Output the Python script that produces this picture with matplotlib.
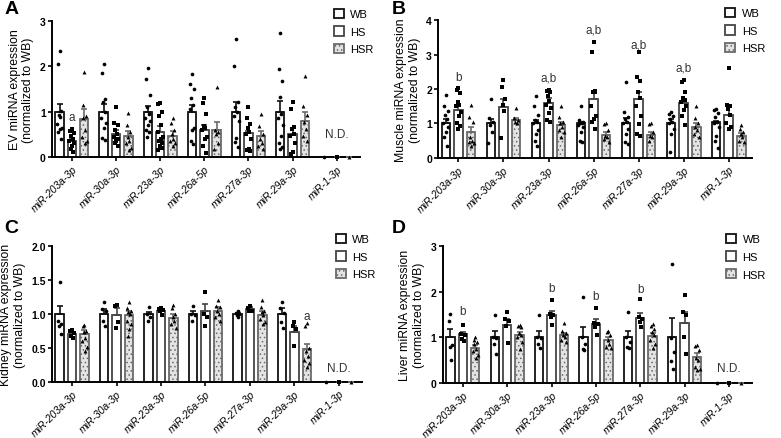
import matplotlib
matplotlib.use("Agg")
import matplotlib.pyplot as plt
import numpy as np
from matplotlib.patches import Patch

plt.rcParams['font.family'] = ['Liberation Sans', 'DejaVu Sans']
plt.rcParams['hatch.linewidth'] = 0.6

mirnas = ['miR-203a-3p', 'miR-30a-3p', 'miR-23a-3p', 'miR-26a-5p',
          'miR-27a-3p', 'miR-29a-3p', 'miR-1-3p']
groups = ['WB', 'HS', 'HSR']

# ---- Panel A: EV ----
ev_wb_mean = [1.0, 1.0, 1.0, 1.0, 1.0, 1.0, 0.0]
ev_wb_sem = [0.18, 0.17, 0.13, 0.15, 0.22, 0.23, 0.0]
ev_wb_pts = [[2.34, 2.04, 1.02, 0.92, 0.88, 0.72, 0.65, 0.62, 0.55, 0.40],
             [2.05, 1.86, 1.27, 1.22, 1.0, 0.85, 0.75, 0.65, 0.42, 0.38],
             [1.96, 1.72, 1.37, 1.1, 0.95, 0.85, 0.8, 0.7, 0.6, 0.55, 0.45],
             [1.84, 1.62, 1.5, 1.3, 1.15, 1.05, 0.65, 0.6, 0.35, 0.28],
             [2.61, 2.0, 1.22, 1.1, 1.0, 0.9, 0.8, 0.43, 0.33, 0.22],
             [2.74, 1.95, 1.68, 1.33, 0.95, 0.85, 0.7, 0.46, 0.3, 0.22, 0.18],
             [0.0]]
ev_hs_mean = [0.36, 0.5, 0.56, 0.6, 0.52, 0.51, 0.0]
ev_hs_sem = [0.06, 0.1, 0.12, 0.1, 0.06, 0.14, 0.0]
ev_hs_pts = [[0.62, 0.58, 0.52, 0.46, 0.40, 0.36, 0.30, 0.24, 0.18, 0.12],
             [1.1, 0.75, 0.7, 0.6, 0.5, 0.45, 0.4, 0.35, 0.3, 0.25],
             [1.2, 1.17, 1.0, 0.9, 0.7, 0.55, 0.45, 0.4, 0.35, 0.3, 0.25, 0.2, 0.15],
             [1.3, 1.2, 0.95, 0.68, 0.65, 0.6, 0.45, 0.4, 0.25, 0.08],
             [1.11, 0.87, 0.72, 0.65, 0.55, 0.5, 0.4, 0.17, 0.15, 0.13],
             [1.22, 1.05, 0.66, 0.62, 0.5, 0.46, 0.32, 0.12, 0.06],
             [0.0]]
ev_hsr_mean = [0.83, 0.47, 0.46, 0.6, 0.46, 0.8, 0.0]
ev_hsr_sem = [0.22, 0.11, 0.11, 0.18, 0.11, 0.2, 0.0]
ev_hsr_pts = [[1.87, 1.15, 0.9, 0.85, 0.6, 0.45, 0.35, 0.3],
              [0.96, 0.7, 0.55, 0.45, 0.35, 0.3, 0.2, 0.15],
              [0.87, 0.75, 0.6, 0.5, 0.4, 0.35, 0.3, 0.25],
              [1.55, 0.6, 0.55, 0.5, 0.3, 0.18],
              [0.94, 0.68, 0.5, 0.4, 0.32, 0.25, 0.17],
              [1.78, 1.12, 0.92, 0.78, 0.62, 0.46, 0.35],
              [0.0]]

# ---- Panel B: Muscle ----
mu_wb_mean = [1.0, 1.0, 1.0, 1.0, 1.0, 1.0, 1.05]
mu_wb_sem = [0.12, 0.14, 0.1, 0.05, 0.15, 0.12, 0.03]
mu_wb_pts = [[1.83, 1.5, 1.37, 1.25, 1.12, 1.0, 0.9, 0.75, 0.6, 0.36],
             [1.7, 1.15, 1.05, 0.95, 0.75, 0.42],
             [1.8, 1.5, 1.25, 1.1, 1.05, 1.0, 0.8, 0.7, 0.5, 0.35],
             [1.52, 1.1, 1.05, 1.02, 1.0, 0.95, 0.9, 0.75, 0.5, 0.45],
             [2.2, 1.32, 1.18, 1.12, 1.05, 1.0, 0.85, 0.7, 0.45, 0.4],
             [1.32, 1.28, 1.22, 1.12, 1.05, 1.0, 0.85, 0.7, 0.16],
             [1.42, 1.38, 1.3, 1.2, 1.05, 1.0, 0.9, 0.65, 0.5, 0.28]]
mu_hs_mean = [1.38, 1.49, 1.58, 1.7, 1.7, 1.6, 1.25]
mu_hs_sem = [0.17, 0.23, 0.17, 0.23, 0.2, 0.08, 0.23]
mu_hs_pts = [[2.03, 1.98, 1.88, 1.62, 1.55, 1.5, 1.32, 1.22, 1.0, 0.94, 0.84],
             [2.26, 2.05, 1.72, 1.55, 1.35, 0.57],
             [1.97, 1.93, 1.9, 1.8, 1.65, 1.55, 1.45, 1.3, 1.1, 1.05],
             [3.35, 3.07, 1.93, 1.92, 1.9, 1.5, 1.23, 1.12, 1.05, 0.85],
             [3.06, 2.34, 2.24, 1.9, 1.75, 1.5, 1.23, 0.98, 0.7, 0.65],
             [2.26, 2.2, 1.92, 1.75, 1.68, 1.62, 1.52, 1.38, 1.23, 0.95],
             [2.62, 1.55, 1.5, 1.42, 1.25, 1.0, 0.9, 0.85]]
mu_hsr_mean = [0.74, 1.1, 0.95, 0.66, 0.66, 0.9, 0.65]
mu_hsr_sem = [0.16, 0.07, 0.1, 0.09, 0.09, 0.1, 0.07]
mu_hsr_pts = [[1.55, 1.18, 1.05, 0.6, 0.5, 0.45, 0.42, 0.36],
              [1.45, 1.15, 1.1, 1.05, 1.0],
              [1.5, 1.2, 1.05, 1.0, 0.9, 0.8, 0.75, 0.6],
              [1.0, 0.98, 0.8, 0.65, 0.6, 0.55, 0.45],
              [1.0, 0.98, 0.75, 0.65, 0.6, 0.5],
              [1.5, 1.15, 1.0, 0.9, 0.8, 0.7, 0.6],
              [0.95, 0.85, 0.75, 0.7, 0.6, 0.5, 0.45]]

# ---- Panel C: Kidney ----
ki_wb_mean = [1.0, 1.0, 1.0, 1.0, 1.0, 1.0, 0.0]
ki_wb_sem = [0.12, 0.07, 0.03, 0.04, 0.02, 0.09, 0.0]
ki_wb_pts = [[1.47, 0.9, 0.85, 0.83, 0.7],
             [1.17, 1.07, 1.05, 0.9, 0.83],
             [1.1, 1.0, 0.95, 0.9],
             [1.12, 1.0, 0.98, 0.9],
             [1.04, 1.02, 1.0, 0.98, 0.95],
             [1.17, 1.08, 1.02, 0.88, 0.8],
             [0.0]]
ki_hs_mean = [0.7, 0.98, 1.04, 1.04, 1.07, 0.73, 0.0]
ki_hs_sem = [0.04, 0.1, 0.03, 0.1, 0.03, 0.09, 0.0]
ki_hs_pts = [[0.76, 0.75, 0.72, 0.68, 0.65],
             [1.13, 1.12, 0.88, 0.8],
             [1.08, 1.07, 1.06, 1.04, 0.98],
             [1.32, 1.0, 0.95, 0.82],
             [1.12, 1.08, 1.05, 1.04],
             [0.88, 0.83, 0.78, 0.53],
             [0.0]]
ki_hsr_mean = [0.7, 0.98, 0.94, 1.05, 0.99, 0.48, 0.0]
ki_hsr_sem = [0.06, 0.06, 0.06, 0.05, 0.06, 0.08, 0.0]
ki_hsr_pts = [[0.84, 0.83, 0.75, 0.74, 0.65, 0.6, 0.52, 0.45],
              [1.17, 1.08, 1.05, 1.03, 1.0, 0.9, 0.85, 0.78, 0.68],
              [1.13, 1.08, 1.0, 0.95, 0.9, 0.85, 0.8],
              [1.2, 1.12, 1.1, 1.05, 1.0, 0.95, 0.9],
              [1.2, 1.1, 1.05, 1.03, 0.98, 0.92, 0.88, 0.85],
              [0.86, 0.82, 0.5, 0.45, 0.38, 0.32, 0.28, 0.22],
              [0.0]]

# ---- Panel D: Liver ----
li_wb_mean = [1.0, 1.0, 1.0, 1.0, 1.0, 1.0, 0.0]
li_wb_sem = [0.19, 0.14, 0.14, 0.23, 0.15, 0.42, 0.0]
li_wb_pts = [[1.51, 1.35, 0.83, 0.8, 0.5],
             [1.5, 1.0, 0.98, 0.85, 0.63],
             [1.5, 1.0, 0.98, 0.85, 0.78],
             [1.89, 1.0, 0.85, 0.75, 0.72],
             [1.56, 1.0, 0.9, 0.79, 0.77],
             [2.6, 0.98, 0.68, 0.48, 0.3],
             [0.0]]
li_hs_mean = [1.07, 1.28, 1.5, 1.3, 1.42, 1.31, 0.0]
li_hs_sem = [0.04, 0.12, 0.09, 0.1, 0.11, 0.24, 0.0]
li_hs_pts = [[1.28, 1.07, 1.05, 0.97, 0.92],
             [1.55, 1.4, 1.35, 1.25, 0.88],
             [1.82, 1.52, 1.5, 1.45, 1.28],
             [1.65, 1.32, 1.29, 1.22, 1.06],
             [1.84, 1.45, 1.4, 1.33, 1.22],
             [1.92, 1.55, 1.5, 1.0, 0.63],
             [0.0]]
li_hsr_mean = [0.78, 1.05, 1.05, 0.95, 1.04, 0.57, 0.0]
li_hsr_sem = [0.06, 0.08, 0.05, 0.05, 0.06, 0.08, 0.0]
li_hsr_pts = [[1.0, 0.95, 0.9, 0.85, 0.75, 0.7, 0.62, 0.55],
              [1.27, 1.25, 1.22, 1.1, 1.05, 1.0, 0.9, 0.75],
              [1.32, 1.15, 1.1, 1.05, 1.0, 0.95, 0.9],
              [1.15, 1.12, 1.06, 0.95, 0.86, 0.8, 0.78],
              [1.3, 1.25, 1.18, 1.12, 1.05, 0.94, 0.86, 0.78],
              [0.83, 0.82, 0.72, 0.55, 0.5, 0.35, 0.3, 0.28],
              [0.0]]

# significance letters: (mirna index, group index, y, text)
ev_letters = [(0, 1, 0.88, 'a')]
mu_letters = [(0, 1, 2.34, 'b'), (2, 1, 2.34, 'a,b'), (3, 1, 3.72, 'a,b'),
              (4, 1, 3.3, 'a,b'), (5, 1, 2.63, 'a,b')]
ki_letters = [(5, 2, 0.97, 'a')]
li_letters = [(0, 1, 1.58, 'b'), (2, 1, 2.09, 'b'), (3, 1, 1.91, 'b'),
              (4, 1, 2.06, 'b')]

edge_colors = ['#111111', '#444444', '#6a6a6a']
face_colors = ['white', 'white', '#e4e4e4']
hatches = [None, None, '....']
markers = ['o', 's', '^']
offsets = [-0.28, 0.0, 0.28]
bar_w = 0.19
jitter = [0.0, -0.45, 0.45, -0.2, 0.25, -0.65, 0.65, 0.1, -0.35, 0.4, -0.1, 0.55, -0.55]

x = np.arange(len(mirnas))


def draw_panel(ax, means, sems, pts, letters, ylim, yticks, yticklabels,
               ylabel, nd_y):
    for g in range(3):
        xs = x + offsets[g]
        ax.bar(xs, means[g], width=bar_w, facecolor=face_colors[g],
               edgecolor=edge_colors[g], linewidth=1.3, hatch=hatches[g],
               zorder=2)
        ax.errorbar(xs, means[g], yerr=[np.zeros(len(x)), sems[g]], fmt='none',
                    ecolor=edge_colors[g], elinewidth=1.2, capsize=2,
                    capthick=1.2, zorder=3)
        for i, vals in enumerate(pts[g]):
            jx = xs[i] + np.array(jitter[:len(vals)]) * bar_w * 0.45
            ax.scatter(jx, vals, marker=markers[g], s=7 if g == 0 else 8,
                       color='black', linewidths=0, zorder=4, clip_on=False)
    for (i, g, y, t) in letters:
        ax.text(x[i] + offsets[g], y, t, ha='center', va='center',
                fontsize=8.5, color='#333333')
    if nd_y is not None:
        ax.text(x[6], nd_y, 'N.D.', ha='center', va='center', fontsize=8.5,
                color='#333333')
    ax.set_xlim(-0.45, 6.52)
    ax.set_ylim(*ylim)
    ax.set_yticks(yticks)
    ax.set_yticklabels(yticklabels, fontsize=7.5, fontweight='bold')
    ax.set_xticks(x)
    ax.set_xticklabels(mirnas, rotation=45, ha='right', rotation_mode='anchor',
                       fontsize=7.5, style='italic')
    ax.spines['top'].set_visible(False)
    ax.spines['right'].set_visible(False)
    ax.spines['left'].set_linewidth(1.4)
    ax.spines['bottom'].set_linewidth(1.4)
    ax.tick_params(axis='both', length=3, width=1.2, pad=1.5)
    ax.set_ylabel(ylabel, fontsize=8.8, labelpad=4)
    handles = [Patch(facecolor=face_colors[g], edgecolor=edge_colors[g],
                     hatch=hatches[g], linewidth=1.3, label=groups[g])
               for g in range(3)]
    ax.legend(handles=handles, loc='upper left', bbox_to_anchor=(0.915, 1.09),
              frameon=False, fontsize=8, handlelength=0.9, handleheight=0.9,
              handletextpad=0.6, labelspacing=0.65, borderaxespad=0,
              borderpad=0)


fig = plt.figure(figsize=(7.81, 4.39), dpi=100)
axA = fig.add_axes([0.0666, 0.640, 0.394, 0.310])
axB = fig.add_axes([0.561, 0.638, 0.402, 0.314])
axC = fig.add_axes([0.0666, 0.1276, 0.397, 0.310])
axD = fig.add_axes([0.567, 0.125, 0.396, 0.312])

draw_panel(axA, [ev_wb_mean, ev_hs_mean, ev_hsr_mean],
           [ev_wb_sem, ev_hs_sem, ev_hsr_sem],
           [ev_wb_pts, ev_hs_pts, ev_hsr_pts], ev_letters,
           (0, 3), [0, 1, 2, 3], ['0', '1', '2', '3'],
           'EV miRNA expression\n(normalized to WB)', 0.5)
draw_panel(axB, [mu_wb_mean, mu_hs_mean, mu_hsr_mean],
           [mu_wb_sem, mu_hs_sem, mu_hsr_sem],
           [mu_wb_pts, mu_hs_pts, mu_hsr_pts], mu_letters,
           (0, 4), [0, 1, 2, 3, 4], ['0', '1', '2', '3', '4'],
           'Muscle miRNA expression\n(normalized to WB)', None)
draw_panel(axC, [ki_wb_mean, ki_hs_mean, ki_hsr_mean],
           [ki_wb_sem, ki_hs_sem, ki_hsr_sem],
           [ki_wb_pts, ki_hs_pts, ki_hsr_pts], ki_letters,
           (0, 2), [0, 0.5, 1.0, 1.5, 2.0], ['0.0', '0.5', '1.0', '1.5', '2.0'],
           'Kidney miRNA expression\n(normalized to WB)', 0.2)
draw_panel(axD, [li_wb_mean, li_hs_mean, li_hsr_mean],
           [li_wb_sem, li_hs_sem, li_hsr_sem],
           [li_wb_pts, li_hs_pts, li_hsr_pts], li_letters,
           (0, 3), [0, 1, 2, 3], ['0', '1', '2', '3'],
           'Liver miRNA expression\n(normalized to WB)', 0.33)

# panel letters
for lx, ly, lt in [(5, 1, 'A'), (392, 1, 'B'), (4, 220, 'C'), (392, 220, 'D')]:
    fig.text(lx / 781, 1 - ly / 439, lt, fontsize=14, fontweight='bold',
             ha='left', va='top')

fig.savefig('out.png', dpi=100)
